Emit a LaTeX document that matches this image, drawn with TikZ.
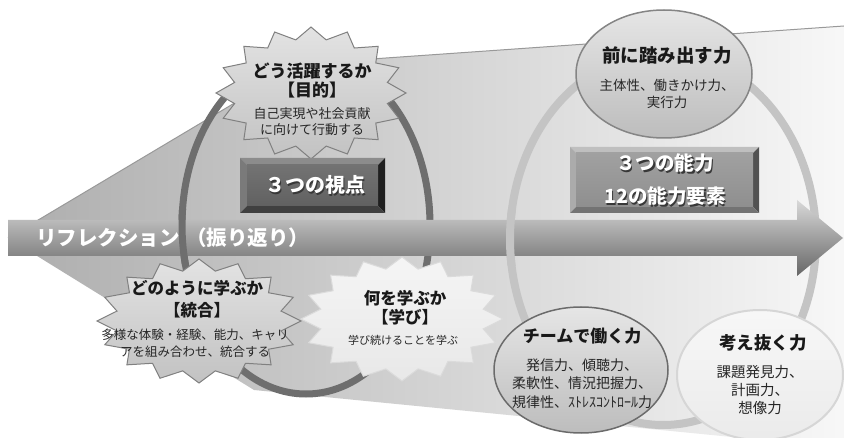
\documentclass[tikz,border=0pt]{standalone}
\usepackage{fontspec}
\setmainfont{Noto Sans CJK JP}
\usetikzlibrary{shapes.geometric}
\definecolor{ringdark}{HTML}{6E6E6E}
\definecolor{ringlight}{HTML}{C4C4C4}
\newcommand\shtext[1]{\makebox[0pt][l]{\kern1.5pt\raisebox{-1.5pt}{\textcolor{black!78}{#1}}}#1}
\begin{document}
\begin{tikzpicture}[x=1pt,y=-1pt,
  ttl/.style={font=\bfseries\fontsize{#1}{#1}\selectfont, text=black!90, inner sep=0pt},
  ttl/.default=17,
  bdy/.style 2 args={font=\fontsize{#1}{#2}\selectfont, text=black!85, align=center, inner sep=0pt},
  wtxt/.style={font=\bfseries\fontsize{#1}{#1}\selectfont, text=white, inner sep=0pt},
  starA/.style={top color=black!11, bottom color=black!24, draw=black!50, line width=1pt},
  starB/.style={top color=black!4, bottom color=black!9, draw=black!14, line width=1pt},
  ellA/.style={ellipse, top color=black!10, bottom color=black!26, draw=black!48, line width=1.5pt},
  ellB/.style={ellipse, top color=black!3, bottom color=black!8, draw=black!16, line width=2pt},
]
\useasboundingbox (0,0) rectangle (844,438);
\fill[white] (0,0) rectangle (844,438);

% background funnel
\path[left color=black!32, right color=black!3] (8,238) -- (300,64) -- (844,26) -- (844,448) -- (254,390) -- cycle;
\draw[black!40, line width=1pt] (8,238) -- (300,64) -- (844,26);

% rings
\draw[ringdark, line width=7pt] (306,225) ellipse [x radius=124, y radius=169];
\draw[ringlight, line width=8pt] (663,239) ellipse [x radius=153, y radius=186];

% main arrow
\path[top color=black!15, bottom color=black!60] (8,220) -- (797,220) -- (797,200) -- (843,238) -- (797,276) -- (797,256) -- (8,256) -- cycle;

% left sides of the rings pass over the arrow
\begin{scope}
\clip (0,210) rectangle (306,266);
\draw[ringdark, line width=7pt] (306,225) ellipse [x radius=124, y radius=169];
\end{scope}
\begin{scope}
\clip (450,210) rectangle (663,266);
\draw[ringlight, line width=8pt] (663,239) ellipse [x radius=153, y radius=186];
\end{scope}

% arrow label
\node[wtxt=20.5, anchor=west] (refl) at (36,238) {リフレクション};
\node[wtxt=20.5, anchor=west] (furi) at (186,238) {（振り返り）};

% stars (16 points)
\draw[starA] plot[samples at={0,...,31}, variable=\k]
  ({311+95*(1-0.18*mod(\k,2))*cos(90+11.25*\k)}, {93-66*(1-0.18*mod(\k,2))*sin(90+11.25*\k)}) -- cycle;
\draw[starA] plot[samples at={0,...,31}, variable=\k]
  ({199+102*(1-0.18*mod(\k,2))*cos(90+11.25*\k)}, {321-62*(1-0.18*mod(\k,2))*sin(90+11.25*\k)}) -- cycle;
\draw[starB] plot[samples at={0,...,31}, variable=\k]
  ({402+101*(1-0.18*mod(\k,2))*cos(90+11.25*\k)}, {319-62*(1-0.18*mod(\k,2))*sin(90+11.25*\k)}) -- cycle;

\node[ttl=17] (t1a) at (312,71) {どう活躍するか};
\node[ttl=17] (t1b) at (312,90) {【目的】};
\node[bdy={13}{16}] (t1c) at (312,122) {自己実現や社会貢献\\に向けて行動する};

\node[ttl=16.5] (t2a) at (197,288) {どのように学ぶか};
\node[ttl=16.5] (t2b) at (197,310) {【統合】};
\node[bdy={12.5}{17}] (t2c) at (195,343.5) {多様な体験・経験、能力、キャリ\\アを組み合わせ、統合する};

\node[ttl=16.5] (t3a) at (405,298) {何を学ぶか};
\node[ttl=16.5] (t3b) at (405,317) {【学び】};
\node[bdy={11}{14}] (t3c) at (403,340) {学び続けることを学ぶ};

% bevel box 1
\fill[black!45] (240,158) -- (385,158) -- (378,165) -- (247,165) -- cycle;
\fill[black!52] (240,158) -- (247,165) -- (247,206) -- (240,213) -- cycle;
\fill[black!88] (385,158) -- (385,213) -- (378,206) -- (378,165) -- cycle;
\fill[black!75] (240,213) -- (385,213) -- (378,206) -- (247,206) -- cycle;
\node[minimum width=131, minimum height=41, inner sep=0pt, top color=black!55, bottom color=black!62] (vp) at (312.5,185.5) {};
\node[wtxt=20] (vpt) at (315,186) {\shtext{３つの視点}};

% bevel box 2
\fill[black!25] (570,147) -- (759,147) -- (753,153) -- (576,153) -- cycle;
\fill[black!33] (570,147) -- (576,153) -- (576,207) -- (570,213) -- cycle;
\fill[black!68] (759,147) -- (759,213) -- (753,207) -- (753,153) -- cycle;
\fill[black!55] (570,213) -- (759,213) -- (753,207) -- (576,207) -- cycle;
\node[minimum width=177, minimum height=54, inner sep=0pt, top color=black!37, bottom color=black!44] (nr) at (664.5,180) {};
\node[wtxt=19.5] (nr1) at (665,164) {\shtext{３つの能力}};
\node[wtxt=19.5] (nr2) at (665,197) {\shtext{12の能力要素}};

% ellipses
\node[ellA, minimum width=176, minimum height=128] (E1) at (664,74) {};
\node[ttl=18.5] (e1a) at (667,56) {前に踏み出す力};
\node[bdy={13.5}{17}] (e1b) at (667,93.5) {主体性、働きかけ力、\\実行力};

\node[ellA, minimum width=174, minimum height=126, draw=black!58] (E2) at (581,370) {};
\node[ttl=17] (e2a) at (582,336) {チームで働く力};
\node[bdy={14}{18.5}] (e2b) at (582,383.5) {発信力、傾聴力、\\柔軟性、情況把握力、\\規律性、ｽﾄﾚｽｺﾝﾄﾛｰﾙ力};

\node[ellB, minimum width=166, minimum height=130] (E3) at (760,375) {};
\node[ttl=17.5] (e3a) at (763,343) {考え抜く力};
\node[bdy={14.5}{18}] (e3b) at (760,390) {課題発見力、\\計画力、\\想像力};
\end{tikzpicture}
\end{document}
